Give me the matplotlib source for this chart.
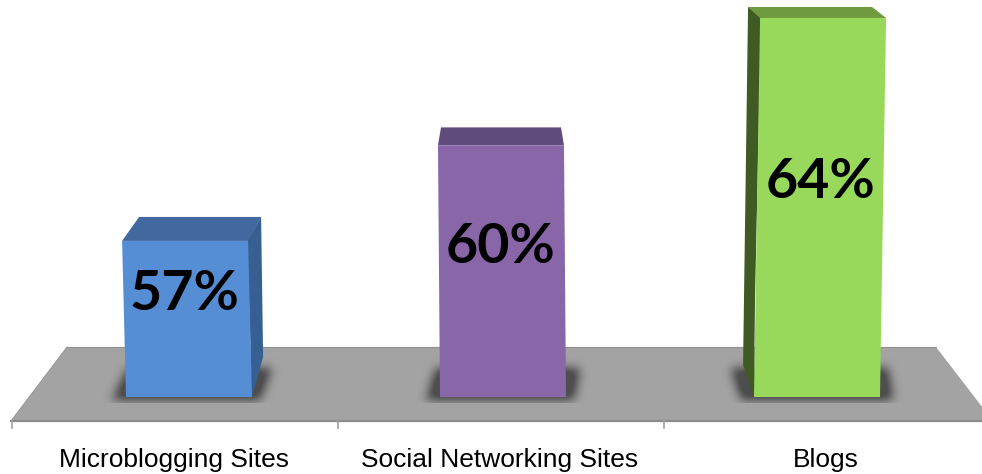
import numpy as np
import matplotlib
matplotlib.use("Agg")
import matplotlib.pyplot as plt
from matplotlib.path import Path
from matplotlib.patches import Polygon
from matplotlib.transforms import Affine2D

categories = ["Microblogging Sites", "Social Networking Sites", "Blogs"]
values = [57, 60, 64]
value_labels = ["57%", "60%", "64%"]

W, H = 982, 474
BASE_VALUE = 52.1      # value sitting on the floor line
PX_PER_UNIT = 31.85
BASE_Y = 397           # floor line of the bars, px from top
BAR_STEP = 314
FIRST_CENTRE = 189
BAR_WIDTH_PX = 126

front_colors = ["#558ed5", "#8866a8", "#98d85a"]
top_colors = ["#41699f", "#5f4b7c", "#6f9a3e"]
side_colors = ["#376092", "#5f4b7c", "#3f5a22"]

fig = plt.figure(figsize=(W / 100, H / 100), dpi=100, facecolor="white")
ax = fig.add_axes([0, 0, 1, 1])
xlim = (-FIRST_CENTRE / BAR_STEP, (W - FIRST_CENTRE) / BAR_STEP)
ylim = (BASE_VALUE - (H - BASE_Y) / PX_PER_UNIT, BASE_VALUE + BASE_Y / PX_PER_UNIT)
ax.axis("off")

# Display transform using pixels measured from the top-left corner
px = Affine2D().scale(1, -1).translate(0, H)

# Floor slab, baseline and tick marks
ax.add_patch(Polygon([(67, 347), (936, 347), (993, 421), (11, 421)], closed=True,
                     facecolor="#a3a3a3", edgecolor="none", transform=px, zorder=1))
ax.plot([11, W], [420.8, 420.8], color="#8c8c8c", lw=1.6, transform=px, zorder=2)
ax.plot([67, 936], [347.3, 347.3], color="#8f8f8f", lw=0.8, transform=px, zorder=2)
ax.plot([67, 11], [347, 421], color="#8f8f8f", lw=0.6, transform=px, zorder=2)
for tx in (11.5, 337.5, 663.5):
    ax.plot([tx, tx], [421, 428], color="#a0a0a0", lw=1.2, transform=px, zorder=2)

# Soft contact shadows on the floor
shadow_shapes = [
    [(112, 400), (128, 368), (272, 368), (260, 400)],
    [(426, 400), (436, 368), (580, 368), (574, 400)],
    [(741, 400), (731, 368), (888, 368), (893, 400)],
]
yy, xx = np.mgrid[0:H, 0:W]
pts = np.column_stack([xx.ravel() + 0.5, yy.ravel() + 0.5])
mask = np.zeros((H, W))
for poly in shadow_shapes:
    mask += Path(poly).contains_points(pts).reshape(H, W)
radius = 14
kernel = np.exp(-0.5 * (np.arange(-radius, radius + 1) / 5.0) ** 2)
kernel /= kernel.sum()
mask = np.apply_along_axis(lambda r: np.convolve(r, kernel, mode="same"), 0, mask)
mask = np.apply_along_axis(lambda r: np.convolve(r, kernel, mode="same"), 1, mask)
rgba = np.zeros((H, W, 4))
rgba[..., :3] = 0.25
rgba[..., 3] = np.clip(mask * 1.25, 0, 1) * 0.85
rgba[:347, :, 3] = 0
rgba[403:, :, 3] = 0
ax.imshow(rgba, extent=xlim + ylim, origin="upper", aspect="auto",
          zorder=3, interpolation="bilinear")
ax.set_xlim(xlim)
ax.set_ylim(ylim)

# Front faces, each sheared a little to give the perspective lean
lean = [-0.025, -0.008, 0.016]
bars = ax.bar(range(len(values)), [v - BASE_VALUE for v in values], bottom=BASE_VALUE,
              width=BAR_WIDTH_PX / BAR_STEP, color=front_colors, linewidth=0, zorder=6)
floor_disp = H - BASE_Y
for bar, k in zip(bars, lean):
    shear = Affine2D.from_values(1, 0, k, 1, -k * floor_disp, 0)
    bar.set_transform(ax.transData + shear)

# Top and side faces follow the front face of each bar
top_depth = [24, 18, 11]
for i, v in enumerate(values):
    y_top = BASE_Y - (v - BASE_VALUE) * PX_PER_UNIT
    cx = FIRST_CENTRE + i * BAR_STEP
    k = lean[i]
    fl = cx - BAR_WIDTH_PX / 2 + k * (BASE_Y - y_top)
    fr = cx + BAR_WIDTH_PX / 2 + k * (BASE_Y - y_top)
    d = top_depth[i]
    if i == 0:
        back = [(fl + 17, y_top - d), (fr + 13, y_top - d)]
        side = [(fr - 1, y_top), (fr + 13, y_top - d), (fr + 15, 357),
                (cx + BAR_WIDTH_PX / 2, BASE_Y)]
    elif i == 1:
        back = [(fl + 3, y_top - d), (fr - 3, y_top - d)]
        side = None
    else:
        back = [(fl - 12, y_top - d), (fr - 14, y_top - d)]
        side = [(fl + 1, y_top), (fl - 12, y_top - d), (fl - 17, 365),
                (cx - BAR_WIDTH_PX / 2, BASE_Y + 1), (cx - BAR_WIDTH_PX / 2 + 1, 300)]
    ax.add_patch(Polygon([(fl, y_top), back[0], back[1], (fr, y_top)], closed=True,
                         facecolor=top_colors[i], edgecolor="none", transform=px, zorder=5))
    if side is not None:
        ax.add_patch(Polygon(side, closed=True, facecolor=side_colors[i],
                             edgecolor="none", transform=px, zorder=4))

# Value labels inside the bars
label_px = [(185, 294), (500, 247), (820, 182)]
for (lx, ly), text in zip(label_px, value_labels):
    ax.text(lx, ly, text, transform=px, ha="center", va="center", fontsize=40,
            fontweight="bold", family="Lato", color="black", zorder=8)

# Category labels under the floor
label_centres = [174, 500, 826]
for lx, text in zip(label_centres, categories):
    ax.text(lx, 460, text, transform=px, ha="center", va="center", fontsize=19,
            family="Liberation Sans", color="black", zorder=8)

fig.savefig("out.png", dpi=100, facecolor="white")
